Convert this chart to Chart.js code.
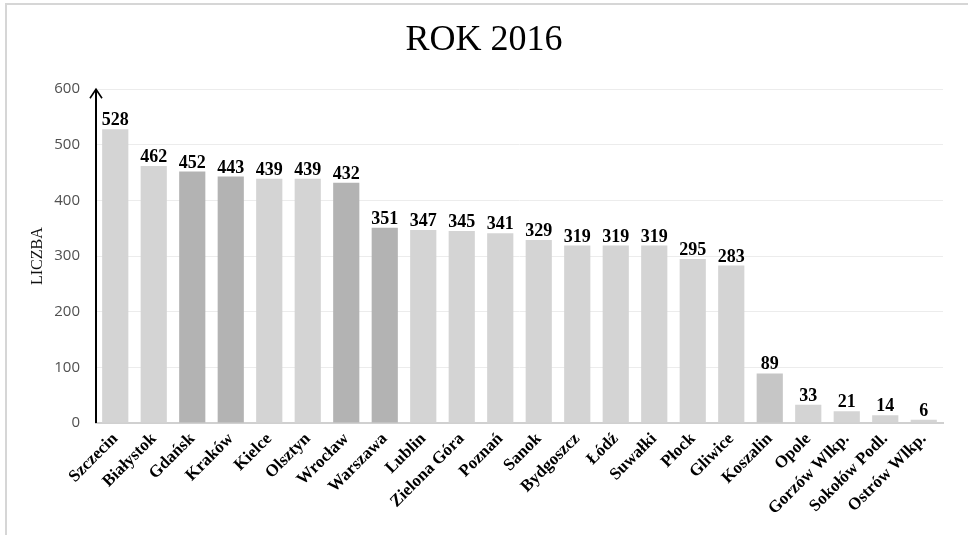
<!DOCTYPE html>
<html><head><meta charset="utf-8">
<script src="https://cdn.jsdelivr.net/npm/chart.js@4/dist/chart.umd.min.js"></script>
<style>
html,body{margin:0;padding:0;background:#fff;}
#wrap{position:absolute;left:0;top:0;width:968px;height:535px;overflow:hidden;}
#frame{position:absolute;left:5px;top:3px;width:1000px;height:600px;border:2px solid #d6d6d6;box-sizing:border-box;}
canvas{position:absolute;left:0;top:0;}
</style></head>
<body>
<div id="wrap"><div id="frame"></div><canvas id="c" width="968" height="535"></canvas></div>
<script>
const categories = ["Szczecin","Białystok","Gdańsk","Kraków","Kielce","Olsztyn","Wrocław","Warszawa","Lublin","Zielona Góra","Poznań","Sanok","Bydgoszcz","Łódź","Suwałki","Płock","Gliwice","Koszalin","Opole","Gorzów Wlkp.","Sokołów Podl.","Ostrów Wlkp."];
const values = [528,462,452,443,439,439,432,351,347,345,341,329,319,319,319,295,283,89,33,21,14,6];
const yTicks = [0,100,200,300,400,500,600];
const titleText = "ROK 2016";
const yTitle = "LICZBA";

const L = "#d4d4d4", D = "#b3b3b3", M = "#c6c6c6";
const barColors = [L,L,D,D,L,L,D,D,L,L,L,L,L,L,L,L,L,M,L,L,L,L];

const overlay = {
  id: "overlay",
  afterDatasetsDraw(chart) {
    const ctx = chart.ctx;
    const meta = chart.getDatasetMeta(0);
    ctx.save();
    ctx.fillStyle = "#000";
    ctx.font = "bold 18px 'Liberation Serif', serif";
    ctx.textAlign = "center";
    ctx.textBaseline = "alphabetic";
    meta.data.forEach((bar, i) => {
      ctx.fillText(String(values[i]), bar.x, bar.y - 4);
    });
    const ys = chart.scales.y, xs = chart.scales.x;
    const x0 = xs.left;
    const yb = ys.getPixelForValue(0), yt = ys.getPixelForValue(600);
    ctx.strokeStyle = "#000";
    ctx.lineWidth = 2;
    ctx.beginPath();
    ctx.moveTo(x0, yb);
    ctx.lineTo(x0, yt);
    ctx.stroke();
    ctx.lineWidth = 1.6;
    ctx.beginPath();
    ctx.moveTo(x0 - 6, yt + 9);
    ctx.lineTo(x0, yt);
    ctx.lineTo(x0 + 6, yt + 9);
    ctx.stroke();
    ctx.restore();
  }
};

new Chart(document.getElementById("c"), {
  type: "bar",
  data: {
    labels: categories,
    datasets: [{ data: values, backgroundColor: barColors, borderWidth: 0, barPercentage: 0.68, categoryPercentage: 1 }]
  },
  options: {
    responsive: false,
    animation: false,
    layout: { padding: { left: 25, right: 25, top: 0, bottom: 0 } },
    plugins: {
      legend: { display: false },
      tooltip: { enabled: false },
      title: {
        display: true, text: titleText, color: "#000",
        font: { family: "'Liberation Serif', serif", size: 36, weight: "normal", lineHeight: 1.2 },
        padding: { top: 19, bottom: 27 }
      }
    },
    scales: {
      x: {
        grid: { display: false, drawTicks: false },
        border: { display: true, color: "#d0d0d0", width: 2 },
        ticks: {
          color: "#000", maxRotation: 45, minRotation: 45, autoSkip: false, padding: 6,
          font: { family: "'Liberation Serif', serif", size: 17, weight: "bold" }
        },
        afterFit(s) { s.height = 112; }
      },
      y: {
        min: 0, max: 600,
        afterBuildTicks(s) { s.ticks = yTicks.map(v => ({ value: v })); },
        grid: { color: "#ececec", lineWidth: 1, drawTicks: false },
        border: { display: false },
        ticks: { color: "#505050", padding: 16, font: { family: "'Open Sans', sans-serif", size: 15 } },
        title: { display: true, text: yTitle, color: "#111", font: { family: "'Liberation Serif', serif", size: 16 }, padding: { top: 3, bottom: 0 } },
        afterFit(s) { s.width = 71; }
      }
    }
  },
  plugins: [overlay]
});
</script>
</body></html>
